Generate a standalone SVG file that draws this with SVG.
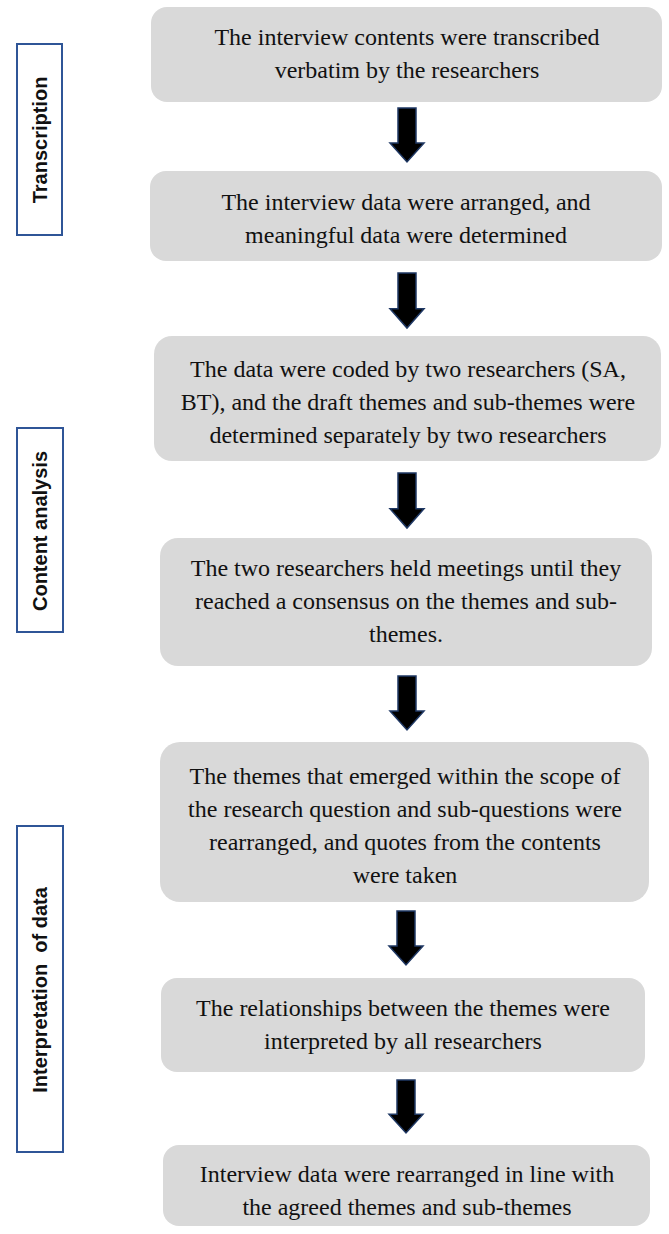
<svg xmlns="http://www.w3.org/2000/svg" width="669" height="1234" viewBox="0 0 669 1234">
<style>
.box{fill:#D9D9D9;stroke:none}
.t{font-family:"Liberation Serif","Times New Roman",serif;font-size:24px;fill:#111;text-anchor:middle}
.lab{fill:#fff;stroke:#2F5597;stroke-width:2}
.lt{font-family:"Liberation Sans",Arial,sans-serif;font-weight:bold;font-size:20px;fill:#111;text-anchor:middle}
.arr{fill:#000;stroke:#1F3864;stroke-width:1.5;stroke-linejoin:miter}
</style>
<defs>
<path id="arrow" d="M-9,0 H9 V35 H17 L0,54 L-17,35 H-9 Z"/>
</defs>
<rect width="669" height="1234" fill="#fff"/>
<g id="stage-transcription">
<rect class="lab" x="17" y="44" width="45" height="191"/>
<text class="lt" transform="translate(47,140) rotate(-90)">Transcription</text>
</g>
<g id="stage-content">
<rect class="lab" x="17" y="428" width="46" height="204"/>
<text class="lt" transform="translate(47,531) rotate(-90)">Content analysis</text>
</g>
<g id="stage-interpretation">
<rect class="lab" x="17" y="826" width="46" height="326"/>
<text class="lt" transform="translate(47,990) rotate(-90)" xml:space="preserve">Interpretation  of data</text>
</g>
<g id="connectors">
<use href="#arrow" class="arr" transform="translate(407,108)"/>
<use href="#arrow" class="arr" transform="translate(407,273) scale(1,1.02)"/>
<use href="#arrow" class="arr" transform="translate(407,473) scale(1,1.02)"/>
<use href="#arrow" class="arr" transform="translate(407,676)"/>
<use href="#arrow" class="arr" transform="translate(406,911)"/>
<use href="#arrow" class="arr" transform="translate(406,1080) scale(1,0.98)"/>
</g>
<g id="step1">
<rect class="box" x="151" y="7" width="511" height="95" rx="16"/>
<text class="t" x="407" y="45">The interview contents were transcribed</text>
<text class="t" x="407" y="78">verbatim by the researchers</text>
</g>
<g id="step2">
<rect class="box" x="150" y="171" width="512" height="90" rx="16"/>
<text class="t" x="406" y="210">The interview data were arranged, and</text>
<text class="t" x="406" y="243">meaningful data were determined</text>
</g>
<g id="step3">
<rect class="box" x="154" y="336" width="507" height="125" rx="18"/>
<text class="t" x="408" y="377">The data were coded by two researchers (SA,</text>
<text class="t" x="408" y="410">BT), and the draft themes and sub-themes were</text>
<text class="t" x="408" y="443">determined separately by two researchers</text>
</g>
<g id="step4">
<rect class="box" x="160" y="538" width="492" height="128" rx="18"/>
<text class="t" x="406" y="576">The two researchers held meetings until they</text>
<text class="t" x="406" y="609">reached a consensus on the themes and sub-</text>
<text class="t" x="406" y="642">themes.</text>
</g>
<g id="step5">
<rect class="box" x="160" y="742" width="489" height="160" rx="20"/>
<text class="t" x="405" y="784">The themes that emerged within the scope of</text>
<text class="t" x="405" y="817">the research question and sub-questions were</text>
<text class="t" x="405" y="850">rearranged, and quotes from the contents</text>
<text class="t" x="405" y="883">were taken</text>
</g>
<g id="step6">
<rect class="box" x="161" y="978" width="484" height="94" rx="16"/>
<text class="t" x="403" y="1016">The relationships between the themes were</text>
<text class="t" x="403" y="1049">interpreted by all researchers</text>
</g>
<g id="step7">
<rect class="box" x="163" y="1145" width="487" height="81" rx="16"/>
<text class="t" x="407" y="1182">Interview data were rearranged in line with</text>
<text class="t" x="407" y="1215">the agreed themes and sub-themes</text>
</g>
</svg>
